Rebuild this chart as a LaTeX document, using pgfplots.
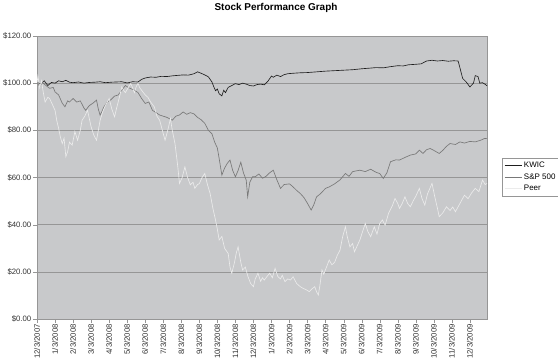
\documentclass[border=0pt]{standalone}
\usepackage{pgfplots}
\pgfplotsset{compat=1.18}
\usepackage{fontspec}
\setmainfont{Liberation Sans}
\definecolor{bggray}{RGB}{200,201,203}
\definecolor{gridgray}{RGB}{150,150,150}
\definecolor{kwic}{RGB}{30,30,30}
\definecolor{spc}{RGB}{120,120,120}
\definecolor{peerc}{RGB}{235,235,235}
\begin{document}
\begin{tikzpicture}
\useasboundingbox (0,0) rectangle (558bp,364bp);
\node[font=\bfseries\fontsize{10}{12}\selectfont] at (276bp,356bp) {Stock Performance Graph};
\begin{axis}[
  at={(37bp,45bp)}, anchor=south west,
  scale only axis, width=450bp, height=283bp,
  xmin=0, xmax=24.95, ymin=0, ymax=120,
  axis background/.style={fill=bggray},
  axis line style={gridgray},
  ytick={0,20,40,60,80,100,120},
  yticklabels={\$0.00,\$20.00,\$40.00,\$60.00,\$80.00,\$100.00,\$120.00},
  xtick={0,1,...,24},
  xticklabels={12/3/2007,1/3/2008,2/3/2008,3/3/2008,4/3/2008,5/3/2008,6/3/2008,7/3/2008,8/3/2008,9/3/2008,10/3/2008,11/3/2008,12/3/2008,1/3/2009,2/3/2009,3/3/2009,4/3/2009,5/3/2009,6/3/2009,7/3/2009,8/3/2009,9/3/2009,10/3/2009,11/3/2009,12/3/2009},
  xticklabel style={rotate=90, anchor=east, font=\fontsize{7.8}{9}\selectfont, text=black!80, inner sep=1bp},
  yticklabel style={font=\fontsize{7.8}{9}\selectfont, text=black!80, inner sep=1.5bp},
  xtick pos=bottom, ytick pos=left, tick align=outside,
  major tick length=4bp, tick style={gridgray},
  ymajorgrids, grid style={gridgray, line width=0.6pt},
  legend style={at={(1.0333,0.569)}, anchor=north west, draw=gridgray, fill=white,
    font=\fontsize{8}{10}\selectfont, inner sep=2bp, row sep=0.5bp},
  legend cell align=left,
  legend image post style={line width=0.8pt},
]
\addplot[kwic, line width=0.65pt] coordinates {
(0,100.5)(0.2,99.5)(0.4,101)(0.6,99)(0.8,100.3)(1.0,100)(1.2,101)(1.4,100.6)(1.6,101.2)(1.8,100.4)
(2.0,100.2)(2.3,100.5)(2.6,100)(2.9,100.3)(3.2,100.4)(3.5,100.6)(3.8,100.2)(4.1,100.4)(4.4,100.5)(4.7,100.6)
(5.0,100.1)(5.3,100.6)(5.6,100.5)(5.8,101.6)(6.0,102.2)(6.3,102.6)(6.6,102.5)(6.9,102.9)(7.2,102.8)(7.5,103.1)
(7.8,103.3)(8.1,103.5)(8.4,103.4)(8.7,104)(8.9,104.8)(9.1,104.2)(9.3,103.5)(9.5,102.7)(9.7,100.5)(9.8,98.5)
(9.9,96.8)(10.0,97.5)(10.1,95.5)(10.25,94.6)(10.35,97)(10.45,96)(10.6,98.2)(10.8,99)(11.0,99.8)(11.2,99.4)
(11.4,100)(11.6,99.6)(11.8,99)(12.0,98.8)(12.2,99.4)(12.4,99.6)(12.6,99.3)(12.8,100.8)(13.0,103)(13.1,102.5)
(13.3,103.4)(13.5,102.8)(13.7,103.6)(13.9,104)(14.2,104.2)(14.6,104.4)(15.0,104.5)(15.5,104.8)(16.0,105.1)(16.5,105.3)
(17.0,105.5)(17.5,105.7)(18.0,106.1)(18.5,106.4)(18.8,106.6)(19.2,106.5)(19.6,107)(20.0,107.4)(20.3,107.3)(20.6,107.8)
(21.0,108)(21.3,108.2)(21.6,109.4)(21.9,109.7)(22.2,109.4)(22.5,109.6)(22.8,109.3)(23.1,109.5)(23.35,109.4)(23.5,105)
(23.6,102)(23.8,100.5)(24.0,98.4)(24.2,100)(24.3,103.2)(24.45,102.8)(24.55,100)(24.7,100.2)(24.85,99.5)(24.95,98.9)
};
\addlegendentry{KWIC}
\addplot[spc, line width=0.65pt] coordinates {
(0,100.5)(0.15,98.5)(0.3,100.2)(0.5,99)(0.7,97.8)(0.9,98.2)(1.0,96.3)(1.2,95)(1.4,91.5)(1.55,90)
(1.7,92.5)(1.8,92)(2.0,93.5)(2.2,92)(2.4,92.5)(2.6,89.5)(2.7,88.5)(2.9,90.5)(3.1,91.5)(3.3,92.8)
(3.4,89)(3.5,86.4)(3.6,88)(3.7,89.8)(3.9,92)(4.1,93)(4.3,94.5)(4.5,95)(4.7,97)(4.9,99)
(5.1,98)(5.4,97)(5.6,96)(5.8,93.5)(6.0,91.4)(6.2,92)(6.4,88.5)(6.6,87.5)(6.8,86.5)(7.0,86)
(7.2,85.5)(7.5,84.3)(7.7,86)(7.9,86.5)(8.1,87.8)(8.3,86.8)(8.5,87.5)(8.7,87)(8.9,85.5)(9.1,84.5)
(9.3,83)(9.5,80)(9.7,78.5)(9.85,75)(10.0,72.5)(10.1,68)(10.25,61)(10.4,64)(10.55,66)(10.7,67.4)
(10.85,63)(11.0,60.3)(11.15,63)(11.3,66.5)(11.45,61.9)(11.6,58.9)(11.68,51.8)(11.8,58)(11.95,60.3)(12.1,60.3)
(12.3,61.5)(12.5,59.7)(12.7,60.5)(12.9,62)(13.1,63.1)(13.3,59)(13.5,55.4)(13.7,57)(14.0,57.3)(14.2,56)
(14.4,54.5)(14.6,53.2)(14.8,51.5)(15.0,49)(15.2,46.2)(15.35,48.5)(15.5,51.8)(15.7,53)(16.0,55.4)(16.2,56)
(16.5,57.3)(16.8,59)(17.1,61.7)(17.3,60.5)(17.5,62.5)(17.9,63.1)(18.2,62.5)(18.5,63.5)(18.8,62.2)(19.0,61.7)
(19.2,59.6)(19.4,62)(19.6,66.7)(19.9,67.5)(20.1,67.4)(20.4,68.5)(20.7,69.5)(21.0,70)(21.2,71.6)(21.4,70.2)
(21.6,71.8)(21.8,72.3)(22.0,71.5)(22.3,70.2)(22.5,71.5)(22.7,73.2)(22.9,74.4)(23.2,74)(23.45,75.1)(23.7,74.6)
(24.0,75.3)(24.3,75.1)(24.6,75.8)(24.8,76.5)(24.95,76.6)
};
\addlegendentry{S\&P 500}
\addplot[peerc, line width=0.65pt] coordinates {
(0,100)(0.05,103)(0.15,98)(0.25,101)(0.35,96)(0.45,92)(0.6,94)(0.7,93.5)(0.85,91)(1.0,88.5)
(1.1,84)(1.2,80.8)(1.3,77)(1.4,74.4)(1.5,76.7)(1.6,68.8)(1.7,71)(1.8,75)(1.95,73.7)(2.1,79.5)
(2.25,75.8)(2.4,80)(2.5,84.3)(2.65,86)(2.8,88.5)(2.9,85)(3.0,81.5)(3.15,78)(3.3,75.8)(3.4,80)
(3.5,84.3)(3.65,88)(3.8,90.7)(3.9,92)(4.0,93.5)(4.15,89)(4.3,85.7)(4.4,89)(4.5,92)(4.6,95)
(4.7,98.4)(4.8,97)(4.9,96)(5.05,98)(5.2,99.9)(5.3,98)(5.4,96)(5.5,98.5)(5.6,99.9)(5.7,98)
(5.8,97)(6.0,95)(6.15,94)(6.3,92)(6.5,90)(6.65,86)(6.8,84.3)(6.95,80)(7.1,75.8)(7.25,80)
(7.4,85)(7.5,80)(7.65,74.4)(7.8,65)(7.9,57.5)(8.05,60)(8.2,64.5)(8.35,60)(8.5,56.9)(8.65,58)
(8.75,55.4)(8.9,57)(9.0,57.4)(9.15,60)(9.3,61.7)(9.45,57)(9.6,53.2)(9.75,47)(9.9,41.9)(10.0,38)
(10.1,33.5)(10.25,35)(10.4,30)(10.6,27.8)(10.7,22)(10.8,19.4)(10.95,24)(11.05,28)(11.15,30.6)(11.3,24)
(11.4,20.8)(11.55,22)(11.7,17.9)(11.85,15)(12.0,13.7)(12.1,17)(12.25,19.4)(12.4,16)(12.5,17.5)(12.6,16.5)
(12.75,18)(12.9,19.4)(13.05,17.5)(13.2,21.5)(13.35,18)(13.5,17)(13.6,18.5)(13.75,15.8)(13.9,17)(14.05,16.5)
(14.2,17.9)(14.4,15)(14.6,13.7)(14.75,13)(14.9,12.5)(15.1,11.6)(15.25,12.8)(15.4,13.7)(15.5,11.5)(15.6,10.2)
(15.7,15)(15.8,20.8)(15.9,19)(16.05,22)(16.2,25)(16.35,23)(16.5,24)(16.65,27)(16.8,29.2)(16.95,35)
(17.1,39.1)(17.2,35)(17.35,30.6)(17.5,32)(17.6,28.5)(17.75,31)(17.9,33.5)(18.05,37)(18.2,40.5)(18.35,37)
(18.5,34.9)(18.6,37)(18.7,39.1)(18.85,36)(19.0,40.5)(19.15,42)(19.3,39.8)(19.5,45)(19.7,48)(19.85,51.1)
(20.0,49)(20.1,46.9)(20.25,49)(20.4,51.8)(20.55,49)(20.7,47.6)(20.85,50)(21.0,52)(21.2,55.4)(21.35,51)
(21.5,48.3)(21.65,53)(21.9,57.5)(22.05,52)(22.2,47)(22.3,43.4)(22.5,45)(22.7,47.6)(22.9,46)(23.05,47.5)
(23.2,45.5)(23.45,49)(23.7,52.5)(23.9,51)(24.1,53.5)(24.3,55.4)(24.5,54)(24.7,58.9)(24.85,57)(24.95,57.5)
};
\addlegendentry{Peer}
\end{axis}
\end{tikzpicture}
\end{document}
